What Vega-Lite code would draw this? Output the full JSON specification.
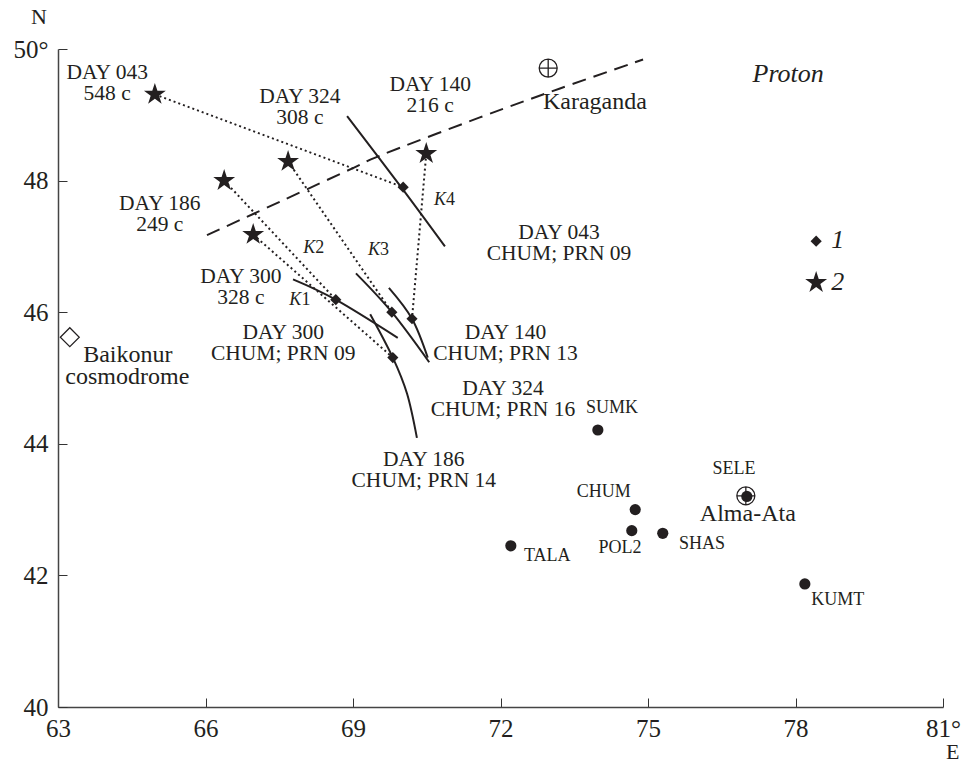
{"$schema":"https://vega.github.io/schema/vega-lite/v6.json","width":885,"height":658,"autosize":"none","padding":{"left":58,"top":49,"right":20,"bottom":55},"background":"white","config":{"view":{"stroke":null},"text":{"font":"Liberation Serif","color":"#231f20"}},
"data":{"values":[
{"k":"dash","id":"boundary","o":1,"lon":66.03,"lat":47.17},{"k":"dash","id":"boundary","o":2,"lon":67.05,"lat":47.52},{"k":"dash","id":"boundary","o":3,"lon":69.0,"lat":48.19},{"k":"dash","id":"boundary","o":4,"lon":69.55,"lat":48.38},{"k":"dash","id":"boundary","o":5,"lon":71.58,"lat":48.96},{"k":"dash","id":"boundary","o":6,"lon":73.21,"lat":49.40},{"k":"dash","id":"boundary","o":7,"lon":74.9,"lat":49.84},
{"k":"arc","id":"a324","o":1,"lon":68.88,"lat":48.98},{"k":"arc","id":"a324","o":2,"lon":69.96,"lat":47.92},{"k":"arc","id":"a324","o":3,"lon":70.87,"lat":47.0},
{"k":"arc","id":"k3","o":1,"lon":69.06,"lat":46.59},{"k":"arc","id":"k3","o":2,"lon":69.79,"lat":46.0},{"k":"arc","id":"k3","o":3,"lon":70.55,"lat":45.24},
{"k":"arc","id":"k4","o":1,"lon":69.73,"lat":46.37},{"k":"arc","id":"k4","o":2,"lon":70.2,"lat":45.90},{"k":"arc","id":"k4","o":3,"lon":70.52,"lat":45.31},
{"k":"arc","id":"k2","o":1,"lon":67.78,"lat":46.50},{"k":"arc","id":"k2","o":2,"lon":68.65,"lat":46.19},{"k":"arc","id":"k2","o":3,"lon":69.91,"lat":45.61},
{"k":"arc","id":"k1","o":1,"lon":69.35,"lat":45.97},{"k":"arc","id":"k1","o":2,"lon":69.81,"lat":45.31},{"k":"arc","id":"k1","o":3,"lon":70.10,"lat":44.76},{"k":"arc","id":"k1","o":4,"lon":70.30,"lat":44.09},
{"k":"ray","id":"043","o":1,"lon":64.97,"lat":49.31},{"k":"ray","id":"043","o":2,"lon":70.02,"lat":47.90},
{"k":"ray","id":"324","o":1,"lon":67.68,"lat":48.29},{"k":"ray","id":"324","o":2,"lon":69.79,"lat":46.0},
{"k":"ray","id":"186","o":1,"lon":66.38,"lat":48.0},{"k":"ray","id":"186","o":2,"lon":68.65,"lat":46.19},
{"k":"ray","id":"140","o":1,"lon":70.49,"lat":48.41},{"k":"ray","id":"140","o":2,"lon":70.2,"lat":45.90},
{"k":"ray","id":"300","o":1,"lon":66.97,"lat":47.18},{"k":"ray","id":"300","o":2,"lon":69.81,"lat":45.31},
{"k":"star","lon":64.97,"lat":49.31},{"k":"star","lon":67.68,"lat":48.29},{"k":"star","lon":66.38,"lat":48.0},{"k":"star","lon":70.49,"lat":48.41},{"k":"star","lon":66.97,"lat":47.18},{"k":"star","lon":78.42,"lat":46.45},
{"k":"diamond","lon":70.02,"lat":47.90},{"k":"diamond","lon":69.79,"lat":46.0},{"k":"diamond","lon":70.2,"lat":45.90},{"k":"diamond","lon":68.65,"lat":46.19},{"k":"diamond","lon":69.81,"lat":45.31},{"k":"diamond","lon":78.42,"lat":47.08},
{"k":"station","t":"SUMK","lon":73.98,"lat":44.21},{"k":"station","t":"CHUM","lon":74.74,"lat":43.0},{"k":"station","t":"POL2","lon":74.67,"lat":42.68},{"k":"station","t":"SHAS","lon":75.3,"lat":42.64},{"k":"station","t":"TALA","lon":72.21,"lat":42.45},{"k":"station","t":"KUMT","lon":78.19,"lat":41.87},{"k":"station","t":"SELE","lon":77.01,"lat":43.2},
{"k":"city","t":"Karaganda","lon":72.97,"lat":49.71},{"k":"city","t":"Alma-Ata","lon":76.99,"lat":43.21},
{"k":"site","t":"Baikonur cosmodrome","lon":63.24,"lat":45.62},
{"k":"label","t":"DAY 043","lon":64.0,"lat":49.63},{"k":"label","t":"548 c","lon":64.0,"lat":49.31},
{"k":"label","t":"DAY 324","lon":67.92,"lat":49.27},{"k":"label","t":"308 c","lon":67.92,"lat":48.95},
{"k":"label","t":"DAY 140","lon":70.57,"lat":49.45},{"k":"label","t":"216 c","lon":70.57,"lat":49.13},
{"k":"label","t":"DAY 186","lon":65.07,"lat":47.65},{"k":"label","t":"249 c","lon":65.07,"lat":47.33},
{"k":"label","t":"DAY 300","lon":66.72,"lat":46.53},{"k":"label","t":"328 c","lon":66.72,"lat":46.21},
{"k":"label","t":"DAY 300","lon":67.58,"lat":45.68},{"k":"label","t":"CHUM; PRN 09","lon":67.58,"lat":45.36},
{"k":"label","t":"DAY 043","lon":73.19,"lat":47.20},{"k":"label","t":"CHUM; PRN 09","lon":73.19,"lat":46.88},
{"k":"label","t":"DAY 140","lon":72.10,"lat":45.69},{"k":"label","t":"CHUM; PRN 13","lon":72.10,"lat":45.37},
{"k":"label","t":"DAY 324","lon":72.05,"lat":44.84},{"k":"label","t":"CHUM; PRN 16","lon":72.05,"lat":44.52},
{"k":"label","t":"DAY 186","lon":70.44,"lat":43.75},{"k":"label","t":"CHUM; PRN 14","lon":70.44,"lat":43.43},
{"k":"place","t":"Baikonur","lon":64.42,"lat":45.35},{"k":"place","t":"cosmodrome","lon":64.41,"lat":45.02},
{"k":"place","t":"Karaganda","lon":73.92,"lat":49.19},{"k":"place","t":"Alma-Ata","lon":77.03,"lat":42.94},
{"k":"axisName","t":"N","lon":62.61,"lat":50.48},{"k":"axisName","t":"E","lon":81.2,"lat":39.32},
{"k":"italic","t":"Proton","lon":77.85,"lat":49.62},{"k":"italic","t":"1","lon":78.86,"lat":47.09},{"k":"italic","t":"2","lon":78.86,"lat":46.46},
{"k":"kLetter","t":"K","lon":67.95,"lat":46.18},{"k":"kLetter","t":"K","lon":68.23,"lat":46.98},{"k":"kLetter","t":"K","lon":69.55,"lat":46.94},{"k":"kLetter","t":"K","lon":70.89,"lat":47.70},
{"k":"kDigit","t":"1","lon":67.95,"lat":46.18},{"k":"kDigit","t":"2","lon":68.23,"lat":46.98},{"k":"kDigit","t":"3","lon":69.55,"lat":46.94},{"k":"kDigit","t":"4","lon":70.89,"lat":47.70},
{"k":"stationLabel","t":"SUMK","lon":74.27,"lat":44.55},{"k":"stationLabel","t":"SELE","lon":76.75,"lat":43.62},{"k":"stationLabel","t":"CHUM","lon":74.10,"lat":43.27},{"k":"stationLabel","t":"POL2","lon":74.43,"lat":42.42},{"k":"stationLabel","t":"SHAS","lon":76.10,"lat":42.48},{"k":"stationLabel","t":"TALA","lon":72.95,"lat":42.30},{"k":"stationLabel","t":"KUMT","lon":78.86,"lat":41.63}
]},
"encoding":{
"x":{"field":"lon","type":"quantitative","title":null,"scale":{"domain":[63,81],"nice":false},"axis":{"values":[63,66,69,72,75,78,81],"labelExpr":"datum.value==81?'81°':datum.label","labelFlush":false,"grid":false,"tickSize":-9,"tickColor":"#333333","tickWidth":1,"domainColor":"#444444","domainWidth":1.5,"labelFont":"Liberation Serif","labelFontSize":25,"labelColor":"#231f20","labelPadding":18}},
"y":{"field":"lat","type":"quantitative","title":null,"scale":{"domain":[40,50],"nice":false},"axis":{"values":[40,42,44,46,48,50],"labelExpr":"datum.value==50?'50°':datum.label","labelFlush":false,"grid":false,"tickSize":-9,"tickColor":"#333333","tickWidth":1,"domainColor":"#444444","domainWidth":1.5,"labelFont":"Liberation Serif","labelFontSize":25,"labelColor":"#231f20","labelPadding":19}}
},
"layer":[
{"transform":[{"filter":"datum.k=='dash'"}],"mark":{"type":"line","color":"#231f20","strokeWidth":2,"strokeDash":[14,8],"interpolate":"cardinal"},"encoding":{"detail":{"field":"id","type":"nominal"},"order":{"field":"o","type":"quantitative"}}},
{"transform":[{"filter":"datum.k=='arc'"}],"mark":{"type":"line","color":"#231f20","strokeWidth":2,"interpolate":"cardinal"},"encoding":{"detail":{"field":"id","type":"nominal"},"order":{"field":"o","type":"quantitative"}}},
{"transform":[{"filter":"datum.k=='ray'"}],"mark":{"type":"line","color":"#231f20","strokeWidth":2,"strokeDash":[2,3]},"encoding":{"detail":{"field":"id","type":"nominal"},"order":{"field":"o","type":"quantitative"}}},
{"transform":[{"filter":"datum.k=='star'"}],"mark":{"type":"point","shape":"M0,-1L0.2245,-0.309L0.951,-0.309L0.363,0.118L0.588,0.809L0,0.382L-0.588,0.809L-0.363,0.118L-0.951,-0.309L-0.2245,-0.309Z","filled":true,"color":"#231f20","size":529,"opacity":1},"encoding":{}},
{"transform":[{"filter":"datum.k=='diamond'"}],"mark":{"type":"point","shape":"diamond","filled":true,"color":"#231f20","size":125,"opacity":1},"encoding":{}},
{"transform":[{"filter":"datum.k=='station'"}],"mark":{"type":"circle","color":"#231f20","size":125,"opacity":1},"encoding":{}},
{"transform":[{"filter":"datum.k=='city'"}],"mark":{"type":"point","shape":"M-1,0A1,1 0 1 1 1,0A1,1 0 1 1 -1,0ZM-1,0L1,0M0,-1L0,1","filled":false,"color":"#231f20","strokeWidth":1.3,"size":324,"opacity":1},"encoding":{}},
{"transform":[{"filter":"datum.k=='site'"}],"mark":{"type":"point","shape":"diamond","filled":false,"color":"#231f20","strokeWidth":1.2,"size":360,"opacity":1},"encoding":{}},
{"transform":[{"filter":"datum.k=='label'"}],"mark":{"type":"text","fontSize":21.5,"align":"center","baseline":"middle"},"encoding":{"text":{"field":"t","type":"nominal"}}},
{"transform":[{"filter":"datum.k=='place'"}],"mark":{"type":"text","fontSize":24,"align":"center","baseline":"middle"},"encoding":{"text":{"field":"t","type":"nominal"}}},
{"transform":[{"filter":"datum.k=='axisName'"}],"mark":{"type":"text","fontSize":22,"align":"center","baseline":"middle"},"encoding":{"text":{"field":"t","type":"nominal"}}},
{"transform":[{"filter":"datum.k=='italic'"}],"mark":{"type":"text","fontSize":26,"fontStyle":"italic","align":"center","baseline":"middle"},"encoding":{"text":{"field":"t","type":"nominal"}}},
{"transform":[{"filter":"datum.k=='kLetter'"}],"mark":{"type":"text","fontSize":18,"fontStyle":"italic","align":"right","baseline":"middle"},"encoding":{"text":{"field":"t","type":"nominal"}}},
{"transform":[{"filter":"datum.k=='kDigit'"}],"mark":{"type":"text","fontSize":18,"align":"left","baseline":"middle"},"encoding":{"text":{"field":"t","type":"nominal"}}},
{"transform":[{"filter":"datum.k=='stationLabel'"}],"mark":{"type":"text","fontSize":18,"align":"center","baseline":"middle"},"encoding":{"text":{"field":"t","type":"nominal"}}}
]}
